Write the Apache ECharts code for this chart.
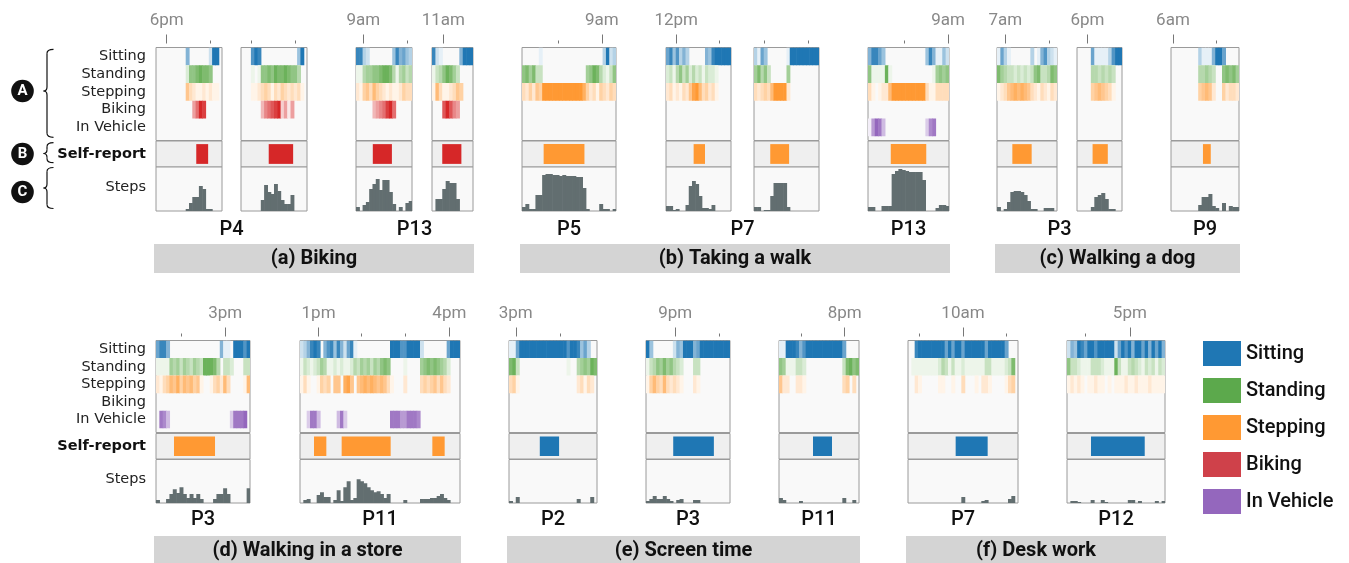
<!DOCTYPE html>
<html><head><meta charset="utf-8">
<script src="https://cdn.jsdelivr.net/npm/echarts@6/dist/echarts.min.js"></script>
<style>html,body{margin:0;padding:0;background:#fff}#c{width:1349px;height:563px}</style>
</head><body><div id="c"></div>
<script>
// ---------------- DATA ----------------
const activities = ['Sitting', 'Standing', 'Stepping', 'Biking', 'In Vehicle'];
const groupNames = ['(a) Biking', '(b) Taking a walk', '(c) Walking a dog', '(d) Walking in a store', '(e) Screen time', '(f) Desk work'];
const participants = ['P4','P4','P13','P13','P5','P7','P7','P13','P3','P3','P9','P3','P11','P2','P3','P11','P7','P12'];
const panelGroup = [0,0,0,0,1,1,1,1,2,2,2,3,3,4,4,4,5,5];
const binCount = [20,20,17,12,28,20,20,24,18,13,20,28,48,26,25,24,33,29];

// activity intensity per time bin (0 = none, 9 = full)
const sitting = [
 '00000000050000002990','00079800000000000490','88320000000485643','821000005999',
 '0000010000000000000000003923','68473530000054899999','31640000001999999999','588640000000000004851142',
 '163100000030157321','0000611113799','00000000311159960000',
 '6885000000000000000511099979','235898057848526810000000000999779999200000006999',
 '11699999999999999799846300','9400000025499956999999999','119998579999999999960000',
 '008999999996969969999996999996000','25498699799999269795996959695'];
const standing = [
 '00000000026678776000','00010166768778766400','11455667887414534','134687530000',
 '6757330000000000000568742136','23146352423132210000','57463000005000000000','611118100000000000015656',
 '754332323236733476','0000443434300','00000000445430067675',
 '1111545354354388874033200033','132123541121211243545354676000010000567676542000',
 '78300000000000000100456587','1346575643200033000000000','651113320000000000037867',
 '011111111243131121111113311112370','63321113332111831134321323132'];
const stepping = [
 '00000000053211212110','00011234313243232310','21453643212112433','163112354000',
 '3242549999999999997423143243','23121325896342310000','32343699992000000000','310122699999999993113333',
 '123567676532132132','0000456543100','00000000456520042332',
 '2134657465645100134263000016','131001434055078505676765653100020000343453532000',
 '34100000000000000000231320','1464363232100021000000000','522002210000000000034030',
 '002100000110010030001022100001340','12121011211010111211211121111'];
const biking = [
 '00000000000469800000','00000035678924140000','00000345689600000','000797540000',
 '','','','','','','','','','','','','',''];
const inVehicle = [
 '','','','','','','','169840000000000003780000','','','',
 '0874000000000000000000388890','003884000004830000000000000888668887000000000000',
 '','','','',''];

// self-reported activity spans [startBin, endBin]
const selfReport = [
 [[12.2,15.8]],[[8.4,15.8]],[[5.1,10.9]],[[3.0,8.6]],
 [[6.45,18.6]],[[8.5,12.0]],[[5.0,10.8]],[[6.75,17.26]],
 [[4.6,10.4]],[[4.5,8.9]],[[9.4,11.7]],
 [[5.36,17.58]],[[4.2,7.9],[12.5,27.2],[39.7,43.4]],
 [[9.1,14.8]],[[8.1,20.2]],[[10.2,15.9]],
 [[14.3,23.9]],[[7.1,23.0]]];
const selfReportActivity = [3,3,3,3,2,2,2,2,2,2,2,2,2,0,0,0,0,0];

// steps per time bin
const steps = [
 [0,0,0,0,0,0,0,0,0,2,8,14,14,25,22,2,2,0,0,0],
 [0,0,0,0,0,0,11,26,19,17,27,20,11,7,7,16,0,0,0,0],
 [4,0,6,9,22,27,32,21,31,31,19,7,0,4,0,8,10],
 [0,12,12,22,30,28,28,12,0,0,0,0],
 [4,7,2,2,16,16,36,37,37,36,36,35,36,35,35,35,34,34,23,2,0,0,0,7,2,2,0,2],
 [5,5,1,2,0,0,6,25,30,27,15,3,3,2,6,0,0,0,0,0],
 [4,4,0,1,1,15,28,28,28,28,4,0,0,0,0,0,0,0,0,0],
 [4,4,0,0,5,5,5,37,40,42,41,40,39,39,39,39,31,0,0,0,3,6,6,5],
 [4,0,2,9,19,20,20,19,16,10,2,2,0,0,3,3,3,0],
 [0,0,0,0,4,14,16,18,12,2,2,0,0],
 [0,0,0,0,0,0,0,0,6,14,14,17,5,3,0,8,0,5,4,4],
 [3,0,0,4,9,14,10,16,9,5,9,5,9,4,0,0,0,4,9,9,15,9,0,0,0,0,0,15],
 [0,3,4,0,0,8,11,6,6,0,3,13,2,16,22,3,5,24,22,20,16,13,11,12,9,5,9,0,0,0,0,3,0,0,0,0,4,4,4,5,5,7,9,5,3,0,0,0],
 [2,0,6,0,0,0,0,0,0,0,0,0,0,0,0,0,0,0,0,0,4,0,0,0,6,0],
 [2,4,7,4,4,7,4,2,0,3,4,0,0,0,3,3,0,0,0,0,0,0,0,0,0],
 [5,3,0,0,0,0,2,0,0,0,0,0,0,0,0,0,0,0,0,5,0,0,3,0],
 [0,0,0,0,0,0,0,0,0,0,0,0,0,0,0,0,6,0,0,0,0,0,2,3,0,0,0,0,0,0,4,7,0],
 [0,2,2,1,0,0,0,3,0,0,3,1,0,0,0,0,0,0,3,3,0,2,0,0,0,0,2,0,2]];

// time ticks (bin position, label)
const majorTicks = [
 [[3.24,'6pm']],[],[[2.2,'9am']],[[3.3,'11am']],
 [[23.8,'9am']],[[3.15,'12pm']],[],[[23.7,'9am']],
 [[2.5,'7am']],[[3.04,'6pm']],[[0.58,'6am']],
 [[20.6,'3pm']],[[5.57,'1pm'],[44.8,'4pm']],
 [[2.0,'3pm']],[[8.7,'9pm']],[[19.7,'8pm']],
 [[16.5,'10am']],[[18.6,'5pm']]];
const minorTicks = [
 [16.4],[3.24,16.4],[15.6],[],
 [10.9],[16.5],[3.24,16.6],[10.8],
 [15.7],[],[13.3],
 [7.6],[18.5,31.7],
 [15.1],[21.7],[6.6],
 [3.5,29.5],[5.5]];

// ---------------- LAYOUT / STYLE ----------------
const panelRow   = [0,0,0,0,0,0,0,0,0,0,0,1,1,1,1,1,1,1];
const panelLeft  = [156,241,356,432,522,666,754,868,997,1077,1171,156,300,509,646,779,908,1067];
const panelWidth = [66,66,56,41,94,65,65,81,60,45,68,94,160,88,84,80,110,98];
const rowCfg = [
  {aTop:47.5, aH:93, bTop:141, bH:26, cTop:167, cH:44, pY:229.5, gTop:244, gH:29},
  {aTop:340.5, aH:92, bTop:433.5, bH:25.5, cTop:459.5, cH:43.5, pY:520, gTop:536, gH:29}
];
const heatColors = ['#1f77b4','#5aa846','#ff9933','#d62728','#9467bd'];
const legendColors = ['#1f77b4','#5ca94c','#ff9933','#cf414a','#9467bd'];
const stepsColor = '#626e70';
const actRows = [sitting, standing, stepping, biking, inVehicle];
const ROWMAX = 5.24;
const STEPMAX = 44;

const grid = [], xAxis = [], yAxis = [], series = [], graphic = [];

function digits(s, n){ const o=[]; for(let i=0;i<n;i++){ const c=s&&s[i]; o.push(c?+c:0);} return o; }
function tint(hex, t){
  const c=[1,3,5].map(i=>parseInt(hex.substr(i,2),16));
  const m=c.map(v=>Math.round(255+(v-255)*t));
  return 'rgb('+m.join(',')+')';
}
function cellRender(color){
  return function(params, api){
    const x=api.value(0), y=api.value(1), v=api.value(2);
    const a=api.coord([x,y]), b=api.coord([x+1,y+1]);
    return {type:'rect', shape:{x:a[0], y:Math.min(a[1],b[1]), width:b[0]-a[0]+0.6, height:Math.abs(b[1]-a[1])},
            style:{fill:tint(color, v/9)}};
  };
}
function spanRender(color){
  return function(params, api){
    const a=api.coord([api.value(0),0.12]), b=api.coord([api.value(1),0.88]);
    return {type:'rect', shape:{x:a[0], y:Math.min(a[1],b[1]), width:b[0]-a[0], height:Math.abs(b[1]-a[1])}, style:{fill:color}};
  };
}
function barRender(params, api){
  const x=api.value(0), v=api.value(1);
  const a=api.coord([x,0]), b=api.coord([x+1,v]);
  return {type:'rect', shape:{x:a[0], y:b[1], width:b[0]-a[0]+0.6, height:a[1]-b[1]}, style:{fill:stepsColor}};
}

const rowLabelFont = {fontFamily:'DejaVu Sans', fontSize:14.5, color:'#222'};

for (let p=0; p<participants.length; p++){
  const r = rowCfg[panelRow[p]], n = binCount[p];
  const first = (p===0 || p===11);
  const base = grid.length;
  const gbox = {left:panelLeft[p], width:panelWidth[p], show:true, borderColor:'#9a9a9a', borderWidth:1};
  grid.push(Object.assign({}, gbox, {top:r.aTop, height:r.aH, backgroundColor:'#f9f9f9'}));
  grid.push(Object.assign({}, gbox, {top:r.bTop, height:r.bH, backgroundColor:'#efefef'}));
  grid.push(Object.assign({}, gbox, {top:r.cTop, height:r.cH, backgroundColor:'#f9f9f9'}));

  const xi = xAxis.length;
  for (let g=0; g<3; g++) xAxis.push({type:'value', gridIndex:base+g, min:0, max:n, show:false});
  const mj = majorTicks[p];
  if (mj.length){
    xAxis.push({type:'value', gridIndex:base, min:0, max:n, position:'top', offset:4,
      axisLine:{show:false}, splitLine:{show:false},
      axisTick:{show:true, length:9, customValues:mj.map(t=>t[0]), lineStyle:{color:'#777', width:1}},
      axisLabel:{show:true, customValues:mj.map(t=>t[0]), margin:14, fontFamily:'Roboto', fontSize:17, color:'#888',
        formatter:(v)=>{ const t=mj.find(t=>Math.abs(t[0]-v)<1e-6); return t?t[1]:''; }}});
  }
  const mn = minorTicks[p];
  if (mn.length){
    xAxis.push({type:'value', gridIndex:base, min:0, max:n, position:'top', offset:4,
      axisLine:{show:false}, splitLine:{show:false}, axisLabel:{show:false},
      axisTick:{show:true, length:3, customValues:mn, lineStyle:{color:'#777', width:1}}});
  }

  const yi = yAxis.length;
  yAxis.push({type:'value', gridIndex:base, min:0, max:ROWMAX, inverse:true, show:first,
    axisLine:{show:false}, axisTick:{show:false}, splitLine:{show:false},
    axisLabel:Object.assign({show:first, margin:10, customValues:[0.5,1.5,2.5,3.5,4.5],
      formatter:(v)=>activities[Math.round(v-0.5)]||''}, rowLabelFont)});
  yAxis.push({type:'value', gridIndex:base+1, min:0, max:1, show:first,
    axisLine:{show:false}, axisTick:{show:false}, splitLine:{show:false},
    axisLabel:Object.assign({show:first, margin:10, customValues:[0.5], formatter:()=> 'Self-report'}, rowLabelFont, {fontWeight:'bold', color:'#111'})});
  yAxis.push({type:'value', gridIndex:base+2, min:0, max:STEPMAX, show:first,
    axisLine:{show:false}, axisTick:{show:false}, splitLine:{show:false},
    axisLabel:Object.assign({show:first, margin:10, customValues:[24], formatter:()=> 'Steps'}, rowLabelFont)});

  for (let k=0; k<5; k++){
    const vals = digits(actRows[k][p], n);
    const data = [];
    vals.forEach((v,i)=>{ if (v>0) data.push([i,k,v]); });
    series.push({type:'custom', name:activities[k], xAxisIndex:xi, yAxisIndex:yi,
      dimensions:['x','y','v'], encode:{x:0,y:1}, renderItem:cellRender(heatColors[k]),
      itemStyle:{color:legendColors[k]}, data, clip:true, silent:true});
  }
  series.push({type:'custom', name:'Self-report', xAxisIndex:xi+1, yAxisIndex:yi+1,
    encode:{x:[0,1]}, renderItem:spanRender(heatColors[selfReportActivity[p]]),
    data:selfReport[p], clip:true, silent:true});
  series.push({type:'custom', name:'Steps', xAxisIndex:xi+2, yAxisIndex:yi+2,
    encode:{x:0,y:1}, renderItem:barRender,
    data:steps[p].map((v,i)=>[i,v]).filter(d=>d[1]>0), clip:true, silent:true});
}

for (let p=0; p<participants.length; ){
  let q=p;
  while (q+1<participants.length && participants[q+1]===participants[p] && panelGroup[q+1]===panelGroup[p] && panelRow[q+1]===panelRow[p]) q++;
  const x0=panelLeft[p], x1=panelLeft[q]+panelWidth[q];
  graphic.push({type:'text', x:(x0+x1)/2, y:rowCfg[panelRow[p]].pY,
    style:{text:participants[p], fontFamily:'Roboto', fontSize:20, fontWeight:500, fill:'#111', align:'center', verticalAlign:'middle'}});
  p=q+1;
}
groupNames.forEach((g,gi)=>{
  const ps = panelGroup.map((v,i)=>v===gi?i:-1).filter(i=>i>=0);
  const x0 = Math.min(...ps.map(i=>panelLeft[i]))-2;
  const x1 = Math.max(...ps.map(i=>panelLeft[i]+panelWidth[i]))+1;
  const r = rowCfg[panelRow[ps[0]]];
  graphic.push({type:'rect', shape:{x:x0, y:r.gTop, width:x1-x0, height:r.gH}, style:{fill:'#d4d4d4'}, z:1});
  graphic.push({type:'text', x:(x0+x1)/2, y:r.gTop+r.gH/2, z:2,
    style:{text:g, fontFamily:'Roboto', fontSize:20, fontWeight:'bold', fill:'#111', align:'center', verticalAlign:'middle'}});
});
function brace(top, bottom, mid){
  const xv=47, xh=53.5, xt=43.5, c=4, st={stroke:'#111', lineWidth:1.2, fill:null};
  return [
    {type:'bezierCurve', shape:{x1:xh, y1:top, cpx1:xv, cpy1:top, x2:xv, y2:top+c}, style:st},
    {type:'line', shape:{x1:xv, y1:top+c, x2:xv, y2:mid-c}, style:st},
    {type:'bezierCurve', shape:{x1:xv, y1:mid-c, cpx1:xv, cpy1:mid, x2:xt, y2:mid}, style:st},
    {type:'bezierCurve', shape:{x1:xt, y1:mid, cpx1:xv, cpy1:mid, x2:xv, y2:mid+c}, style:st},
    {type:'line', shape:{x1:xv, y1:mid+c, x2:xv, y2:bottom-c}, style:st},
    {type:'bezierCurve', shape:{x1:xv, y1:bottom-c, cpx1:xv, cpy1:bottom, x2:xh, y2:bottom}, style:st}
  ];
}
[[49.3,137.3,91],[142.7,162.7,153.5],[167.5,208.5,188]].forEach(b=>{ graphic.push(...brace(b[0],b[1],b[2])); });
[[91,'A'],[154,'B'],[192,'C']].forEach(c=>{
  graphic.push({type:'circle', shape:{cx:22.5, cy:c[0], r:11.3}, style:{fill:'#111'}});
  graphic.push({type:'text', x:22.5, y:c[0]+0.5, style:{text:c[1], fontFamily:'Roboto', fontSize:15, fontWeight:'bold', fill:'#fff', align:'center', verticalAlign:'middle'}});
});

const option = {
  animation:false,
  textStyle:{fontFamily:'Roboto'},
  grid, xAxis, yAxis, series, graphic,
  legend:{orient:'vertical', left:1198, top:336, itemWidth:38, itemHeight:25, itemGap:12, icon:'rect',
    selectedMode:false, textStyle:{fontFamily:'Roboto', fontSize:20, fontWeight:500, color:'#111'},
    data:activities.map((a,i)=>({name:a, itemStyle:{color:legendColors[i]}}))}
};
const chart = echarts.init(document.getElementById('c'), null, {renderer:'canvas'});
chart.setOption(option);
</script>
</body></html>
